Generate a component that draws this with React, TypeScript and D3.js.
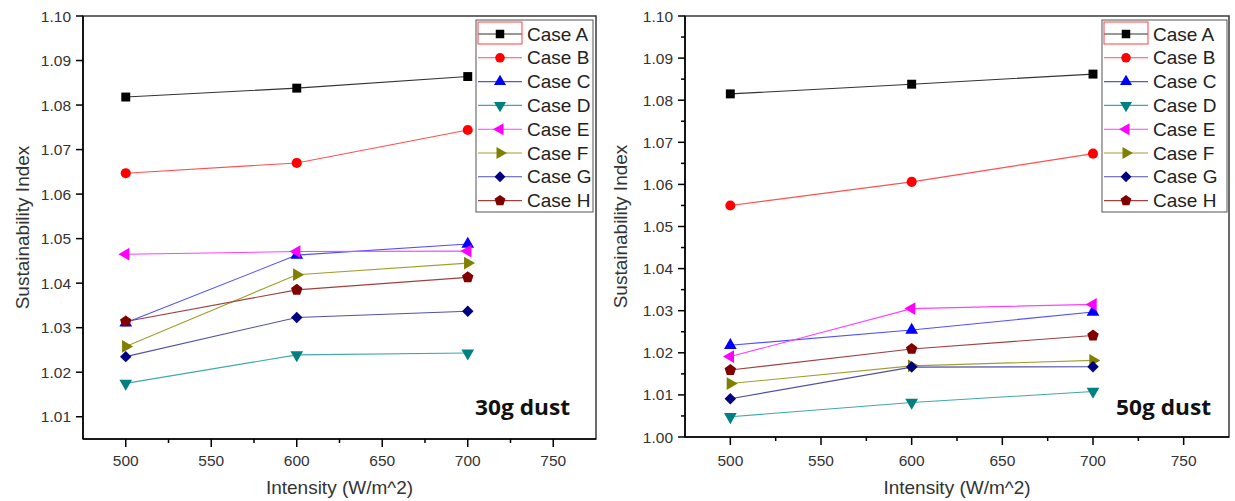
import React from "react";
import * as d3 from "d3";

// ---------- data ----------
const intensities = [500, 600, 700];
const xTickValues = [500, 550, 600, 650, 700, 750];
const yTicks30 = [1.01, 1.02, 1.03, 1.04, 1.05, 1.06, 1.07, 1.08, 1.09, 1.1];
const yTicks50 = [1.0, 1.01, 1.02, 1.03, 1.04, 1.05, 1.06, 1.07, 1.08, 1.09, 1.1];
const caseNames = ["Case A", "Case B", "Case C", "Case D", "Case E", "Case F", "Case G", "Case H"];

// 30 g dust
const dust30A = [1.0818, 1.0838, 1.0864];
const dust30B = [1.0647, 1.067, 1.0744];
const dust30C = [1.0311, 1.0463, 1.0488];
const dust30D = [1.0175, 1.0239, 1.0243];
const dust30E = [1.0465, 1.0471, 1.0472];
const dust30F = [1.0258, 1.0419, 1.0445];
const dust30G = [1.0235, 1.0323, 1.0337];
const dust30H = [1.0314, 1.0385, 1.0413];

// 50 g dust
const dust50A = [1.0815, 1.0838, 1.0862];
const dust50B = [1.055, 1.0606, 1.0673];
const dust50C = [1.0218, 1.0254, 1.0297];
const dust50D = [1.0048, 1.0082, 1.0108];
const dust50E = [1.0191, 1.0305, 1.0315];
const dust50F = [1.0127, 1.0169, 1.0182];
const dust50G = [1.0091, 1.0166, 1.0167];
const dust50H = [1.0159, 1.0209, 1.0241];

const series30 = [dust30A, dust30B, dust30C, dust30D, dust30E, dust30F, dust30G, dust30H];
const series50 = [dust50A, dust50B, dust50C, dust50D, dust50E, dust50F, dust50G, dust50H];

// ---------- styles ----------
const colors = ["#000000", "#ff0000", "#0000ff", "#008080", "#ff00ff", "#808000", "#000080", "#800000"];
const lineColors = ["#333333", "#ff5050", "#5050ff", "#40a8a8", "#ff40ff", "#a0a030", "#5050a8", "#a04040"];
const FONT = "'Liberation Sans', Arial, sans-serif";

function pentagonPath(r: number) {
  const pts: [number, number][] = d3.range(5).map((i) => {
    const a = -Math.PI / 2 + (i * 2 * Math.PI) / 5;
    return [r * Math.cos(a), r * Math.sin(a)];
  });
  return d3.line()(pts)! + "Z";
}

function markerPath(i: number, scale = 1): { d: string; rot: number } {
  switch (i) {
    case 0:
      return { d: d3.symbol(d3.symbolSquare, 80 * scale * scale)()!, rot: 0 };
    case 1:
      return { d: d3.symbol(d3.symbolCircle, 80 * scale * scale)()!, rot: 0 };
    case 2:
      return { d: d3.symbol(d3.symbolTriangle, 70 * scale * scale)()!, rot: 0 };
    case 3:
      return { d: d3.symbol(d3.symbolTriangle, 70 * scale * scale)()!, rot: 180 };
    case 4:
      return { d: d3.symbol(d3.symbolTriangle, 70 * scale * scale)()!, rot: -90 };
    case 5:
      return { d: d3.symbol(d3.symbolTriangle, 70 * scale * scale)()!, rot: 90 };
    case 6:
      return { d: d3.symbol(d3.symbolSquare, 66 * scale * scale)()!, rot: 45 };
    default:
      return { d: pentagonPath(6 * scale), rot: 0 };
  }
}

type PanelProps = {
  series: number[][];
  yTicks: number[];
  yDomain: [number, number];
  x0: number;
  x1: number;
  y0: number;
  y1: number;
  titleX: number;
  legendX0: number;
  legendX1: number;
  label: string;
  labelX: number;
};

function Panel(p: PanelProps) {
  const x = d3.scaleLinear().domain([475, 775]).range([p.x0, p.x1]);
  const y = d3.scaleLinear().domain(p.yDomain).range([p.y1, p.y0]);
  const line = d3
    .line<number>()
    .x((_, i) => x(intensities[i]))
    .y((v) => y(v));

  const xMinor = d3.range(525, 775, 50);
  const yMinor = d3.range(p.yDomain[0] + 0.005, p.yDomain[1], 0.01).filter((v) => {
    const r = Math.round(v * 1000) % 10;
    return r === 5;
  });

  const legTop = 20;
  const legBottom = 212;
  const rowY = (i: number) => 34 + i * 23.8;
  const lx1 = p.legendX0 + 2;
  const lx2 = p.legendX0 + 46;
  const lmid = (lx1 + lx2) / 2;

  return (
    <g>
      {/* frame */}
      <rect x={p.x0} y={p.y0} width={p.x1 - p.x0} height={p.y1 - p.y0} fill="none" stroke="#3a3a3a" strokeWidth={1.5} />
      <line x1={p.x0} x2={p.x0} y1={p.y0} y2={p.y1} stroke="#000" strokeWidth={1.6} />
      <line x1={p.x0} x2={p.x1} y1={p.y1} y2={p.y1} stroke="#000" strokeWidth={1.6} />

      {/* y ticks */}
      {p.yTicks.map((t) => (
        <g key={"yt" + t}>
          <line x1={p.x0 - 7} x2={p.x0} y1={y(t)} y2={y(t)} stroke="#000" strokeWidth={1.5} />
          <text x={p.x0 - 12} y={y(t)} textAnchor="end" dominantBaseline="central" fontFamily={FONT} fontSize={15.5} fill="#333">
            {d3.format(".2f")(t)}
          </text>
        </g>
      ))}
      {yMinor.map((t) => (
        <line key={"ym" + t} x1={p.x0 - 4} x2={p.x0} y1={y(t)} y2={y(t)} stroke="#000" strokeWidth={1.5} />
      ))}

      {/* x ticks */}
      {xTickValues.map((t) => (
        <g key={"xt" + t}>
          <line x1={x(t)} x2={x(t)} y1={p.y1} y2={p.y1 + 8} stroke="#000" strokeWidth={1.5} />
          <text x={x(t)} y={466} textAnchor="middle" fontFamily={FONT} fontSize={15.5} fill="#333">
            {t}
          </text>
        </g>
      ))}
      {xMinor.map((t) => (
        <line key={"xm" + t} x1={x(t)} x2={x(t)} y1={p.y1} y2={p.y1 + 4} stroke="#000" strokeWidth={1.5} />
      ))}

      {/* titles */}
      <text x={(p.x0 + p.x1) / 2} y={494} textAnchor="middle" fontFamily={FONT} fontSize={19} fill="#333">
        Intensity (W/m^2)
      </text>
      <text
        transform={`translate(${p.titleX},${(p.y0 + p.y1) / 2}) rotate(-90)`}
        textAnchor="middle"
        dominantBaseline="central"
        fontFamily={FONT}
        fontSize={19}
        fill="#333"
      >
        Sustainability Index
      </text>

      {/* series */}
      {p.series.map((vals, si) => (
        <g key={"s" + si}>
          <path d={line(vals)!} fill="none" stroke={lineColors[si]} strokeWidth={1.1} />
          {vals.map((v, j) => {
            const m = markerPath(si);
            return (
              <path
                key={j}
                d={m.d}
                transform={`translate(${x(intensities[j])},${y(v)}) rotate(${m.rot})`}
                fill={colors[si]}
              />
            );
          })}
        </g>
      ))}

      {/* legend */}
      <rect x={p.legendX0} y={legTop} width={p.legendX1 - p.legendX0} height={legBottom - legTop} fill="#fff" stroke="#555" strokeWidth={1} />
      {caseNames.map((name, i) => {
        const m = markerPath(i, 0.95);
        return (
          <g key={name}>
            <line x1={lx1} x2={lx2} y1={rowY(i)} y2={rowY(i)} stroke={lineColors[i]} strokeWidth={1.1} />
            <path d={m.d} transform={`translate(${lmid},${rowY(i)}) rotate(${m.rot})`} fill={colors[i]} />
            <text x={lx2 + 5} y={rowY(i)} dominantBaseline="central" fontFamily={FONT} fontSize={19} fill="#222">
              {name}
            </text>
          </g>
        );
      })}
      <rect x={lx1} y={22} width={lx2 - lx1} height={22} fill="none" stroke="#ff4040" strokeWidth={1} />

      {/* annotation */}
      <text x={p.labelX} y={415} fontFamily="'Open Sans', 'DejaVu Sans', sans-serif" fontWeight="bold" fontSize={21} fill="#111" textLength={95} lengthAdjust="spacingAndGlyphs">
        {p.label}
      </text>
    </g>
  );
}

export default function App() {
  return (
    <svg width={1235} height={501} style={{ position: "absolute", left: 0, top: 0, background: "#fff" }}>
      <rect x={0} y={0} width={1235} height={501} fill="#fff" />
      <Panel
        series={series30}
        yTicks={yTicks30}
        yDomain={[1.005, 1.1]}
        x0={83}
        x1={596}
        y0={16}
        y1={439}
        titleX={22}
        legendX0={476}
        legendX1={593}
        label="30g dust"
        labelX={475}
      />
      <Panel
        series={series50}
        yTicks={yTicks50}
        yDomain={[1.0, 1.1]}
        x0={685}
        x1={1229}
        y0={16}
        y1={437}
        titleX={620}
        legendX0={1102}
        legendX1={1227}
        label="50g dust"
        labelX={1116}
      />
    </svg>
  );
}
